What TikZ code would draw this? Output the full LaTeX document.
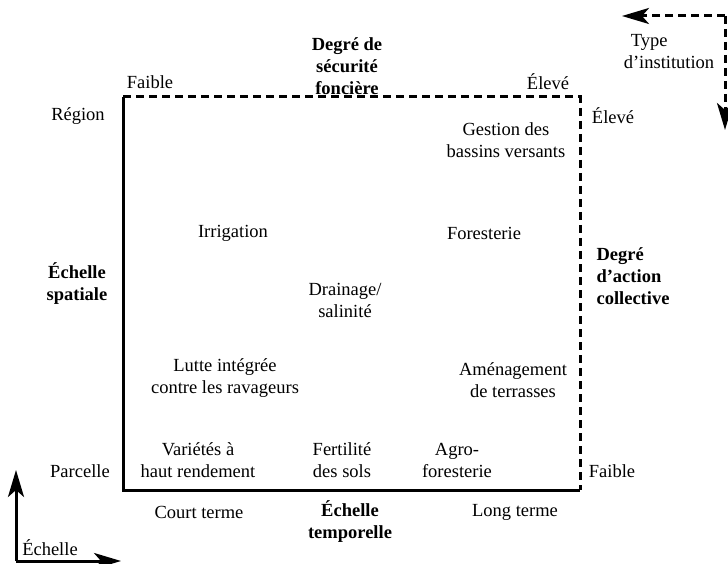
\documentclass[tikz,border=0pt]{standalone}
\usepackage{fontspec}
\setmainfont{Liberation Serif}
\usetikzlibrary{positioning}
\usetikzlibrary{arrows.meta}

\begin{document}
\begin{tikzpicture}[
		x=1pt, y=-1pt,
		t/.style={inner sep=0pt, align=center, font=\fontsize{18.5}{22}\selectfont},
		b/.style={t, font=\fontsize{18.5}{22}\selectfont\bfseries},
		ax/.style={line width=3pt, -{Stealth[length=27pt, width=16pt, inset=7pt]}},
		dsh/.style={line width=3pt, dash pattern=on 8pt off 5pt},
		]
		\useasboundingbox (0,0) rectangle (728,564);
		
		% frame
		\coordinate (bl)	at	(123, 490);
		\coordinate (tl)	at	(123, 97);
		\coordinate (tr)	at	(580, 97);
		\coordinate (br)	at	(580, 490);
		\draw[line width=3pt]	(tl)	--	(bl)	--	(br);
		\draw[dsh]	(tl)	--	(tr)	--	(br);
		
		% axis labels
		\node[b]	(secu)	at	(347, 66)		{Degré de\\sécurité\\foncière};
		\node[t]	(tfai)	at	(150, 82)		{Faible};
		\node[t]	(tele)	at	(548, 82)		{Élevé};
		\node[t]	(regi)	at	(78, 116)		{Région};
		\node[t]	(rele)	at	(613, 116)		{Élevé};
		\node[b]	(spat)	at	(77, 284)		{Échelle\\spatiale};
		\node[b, align=left]	(coll)	at	(633, 276)	{Degré\\d’action\\collective};
		\node[t]	(parc)	at	(80, 471)		{Parcelle};
		\node[t]	(rfai)	at	(612, 471)		{Faible};
		\node[t]	(cour)	at	(199, 512)		{Court terme};
		\node[b]	(temp)	at	(350, 522)		{Échelle\\temporelle};
		\node[t]	(long)	at	(515, 512)		{Long terme};
		
		% practices
		\node[t]	(gest)	at	(506, 140)		{Gestion des\\bassins versants};
		\node[t]	(irri)	at	(233, 233)		{Irrigation};
		\node[t]	(fore)	at	(484, 233)		{Foresterie};
		\node[t]	(drai)	at	(345, 300)		{Drainage/\\salinité};
		\node[t]	(lutt)	at	(225, 378)		{Lutte intégrée\\contre les ravageurs};
		\node[t]	(amen)	at	(513, 380)		{Aménagement\\de terrasses};
		\node[t]	(vari)	at	(198, 460)		{Variétés à\\haut rendement};
		\node[t]	(fert)	at	(342, 460)		{Fertilité\\des sols};
		\node[t]	(agro)	at	(457, 460)		{Agro-\\foresterie};
		
		% legend arrows
		\node[t, align=left]	(inst)	at	(669, 52)	{\hspace{7pt}Type\\d’institution};
		\coordinate (ic)	at	(725, 16);
		\coordinate (il)	at	(622, 16);
		\coordinate (id)	at	(725, 130);
		\draw[ax, dash pattern=on 8pt off 5pt]	(ic)	--	(il);
		\draw[ax, dash pattern=on 8pt off 5pt]	(ic)	--	(id);
		
		\node[t]	(eche)	at	(50, 548)		{Échelle};
		\coordinate (ec)	at	(16, 561);
		\coordinate (eu)	at	(16, 470);
		\coordinate (er)	at	(121, 561);
		\draw[ax]	(ec)	--	(eu);
		\draw[ax]	(ec)	--	(er);
	\end{tikzpicture}
\end{document}
